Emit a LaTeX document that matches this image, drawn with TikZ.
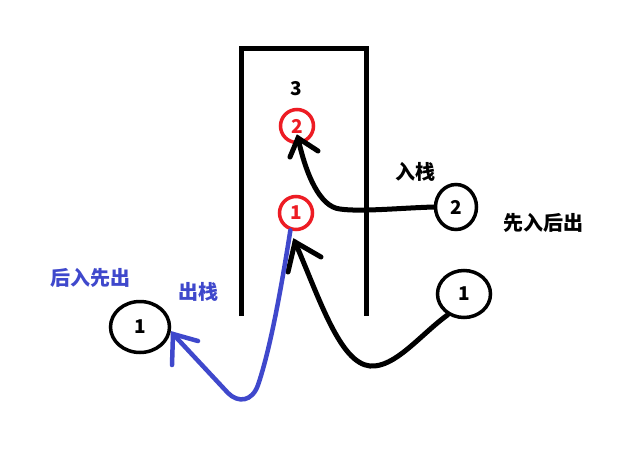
\documentclass[tikz,border=0pt]{standalone}
\usepackage{fontspec}
\newfontfamily\cjk{Noto Sans CJK SC}
\usetikzlibrary{shapes.geometric}
\definecolor{pred}{RGB}{237,28,36}
\definecolor{pblue}{RGB}{63,72,204}
\begin{document}
\begin{tikzpicture}[x=1pt,y=-1pt,
  stackwall/.style={line width=5pt,line join=miter},
  redc/.style={circle,draw=pred,line width=3.5pt,minimum size=33pt,inner sep=0pt,text=pred,font=\cjk\bfseries\fontsize{19}{19}\selectfont},
  blkc/.style={ellipse,draw=black,line width=3.5pt,inner sep=0pt,font=\cjk\bfseries\fontsize{19}{19}\selectfont},
  lbl/.style={inner sep=0pt,font=\cjk\bfseries\fontsize{20}{20}\selectfont},
  blkline/.style={line width=5pt,line cap=round,draw=black},
  blueline/.style={line width=4.5pt,line cap=round,draw=pblue}]
\useasboundingbox (0,0) rectangle (638,461);
\fill[white] (0,0) rectangle (638,461);
% stack
\draw[stackwall] (241,316) -- (241,48) -- (366,48) -- (366,316);
% nodes
\node[lbl,font=\cjk\bfseries\fontsize{19}{19}\selectfont] (three) at (296,89) {3};
\node[redc] (r2) at (297,126) {2};
\node[redc] (r1) at (296,213) {1};
\node[blkc,minimum width=41pt,minimum height=45pt] (b2) at (456,207) {2};
\node[blkc,minimum width=53pt,minimum height=47pt] (b1r) at (464,294) {1};
\node[blkc,minimum width=59pt,minimum height=51pt] (b1l) at (140,327) {1};
% labels
\node[lbl] (rz) at (415,172) {入栈};
\node[lbl] (xr) at (543,223) {先入后出};
\node[lbl,text=pblue] (hr) at (90,278) {后入先出};
\node[lbl,text=pblue] (cz) at (198,292) {出栈};
% arrow tips
\coordinate (t2) at (298,138);
\coordinate (t2a) at (290,157);
\coordinate (t2b) at (318,151);
\coordinate (t1) at (295,242);
\coordinate (t1a) at (288,272);
\coordinate (t1b) at (321,257);
\coordinate (t3) at (173,334);
\coordinate (t3a) at (172,365);
\coordinate (t3b) at (198,341);
% black connector top
\draw[blkline] (b2.west) .. controls (400,208) and (360,212) .. (340,209)
  .. controls (320,207) and (306,175) .. (t2);
\draw[blkline] (t2a) -- (t2) -- (t2b);
% black connector bottom
\draw[blkline] (b1r.232) .. controls (420,335) and (395,368) .. (370,366)
  .. controls (340,363) and (320,300) .. (t1);
\draw[blkline] (t1a) -- (t1) -- (t1b);
% blue connector
\draw[blueline] (r1.252) .. controls (281,290) and (270,350) .. (258,385)
  .. controls (252,402) and (238,403) .. (228,393) -- (t3);
\draw[blueline] (t3a) -- (t3) -- (t3b);
\end{tikzpicture}
\end{document}
